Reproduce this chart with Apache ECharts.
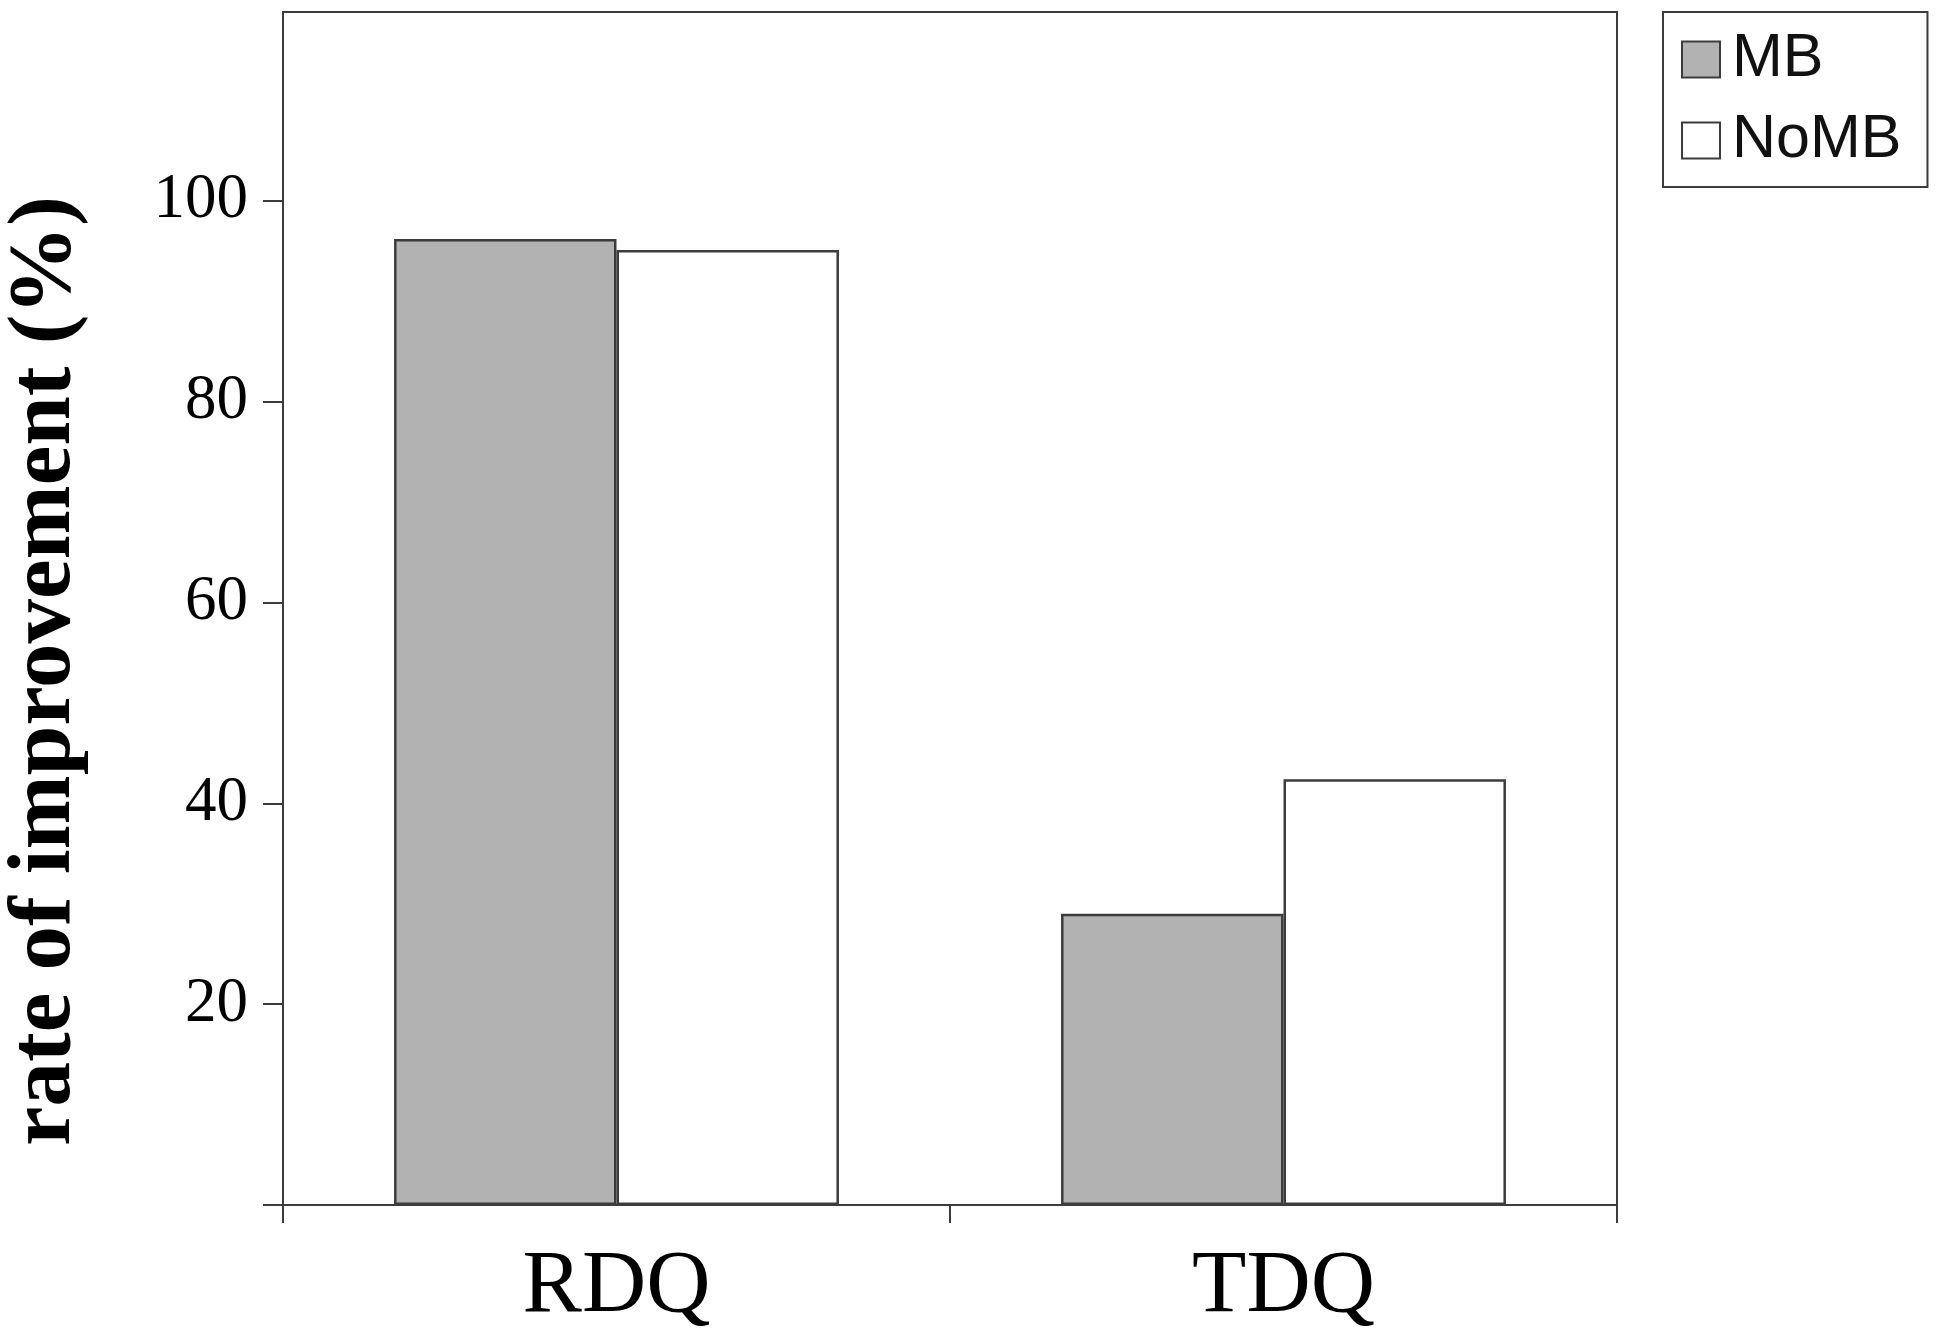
<!DOCTYPE html>
<html>
<head>
<meta charset="utf-8">
<style>
  html, body { margin: 0; padding: 0; background: #ffffff; }
  #chart { width: 1940px; height: 1340px; }
</style>
<script src="https://cdn.jsdelivr.net/npm/echarts@6/dist/echarts.min.js"></script>
</head>
<body>
<div id="chart"></div>
<script>
const categories = ['RDQ', 'TDQ'];
const seriesNames = ['MB', 'NoMB'];
const mbValues = [96.2, 29.0];
const nombValues = [95.1, 42.4];
const yTickValues = [0, 20, 40, 60, 80, 100];
const yLabelValues = [20, 40, 60, 80, 100];
const yAxisTitle = 'rate of improvement (%)';

const SERIF = '"Liberation Serif", "Times New Roman", serif';
const SANS = '"Liberation Sans", Arial, sans-serif';
const LINE = '#3c3c3c';

const chart = echarts.init(document.getElementById('chart'), null, { renderer: 'canvas' });

const option = {
  backgroundColor: '#ffffff',
  animation: false,
  grid: {
    left: 283, right: 323, top: 12, bottom: 135,
    show: true, borderColor: LINE, borderWidth: 2, backgroundColor: 'transparent'
  },
  legend: {
    orient: 'vertical',
    left: 1663, top: 12,
    data: seriesNames,
    backgroundColor: '#ffffff',
    borderColor: LINE, borderWidth: 2, borderRadius: 0,
    padding: [17, 26, 16, 18],
    itemWidth: 38, itemHeight: 36, itemGap: 20,
    icon: 'rect',
    textStyle: { fontFamily: SANS, fontSize: 61, color: '#111111', padding: [0, 0, 0, 7] }
  },
  xAxis: {
    type: 'category',
    data: categories,
    boundaryGap: true,
    axisLine: { show: true, lineStyle: { color: LINE, width: 2 } },
    axisTick: { show: true, inside: false, length: 18, alignWithLabel: false, lineStyle: { color: LINE, width: 2 } },
    axisLabel: { fontFamily: SERIF, fontSize: 89, color: '#000000', margin: 38 },
    splitLine: { show: false }
  },
  yAxis: {
    type: 'value',
    min: 0, max: 118.8, interval: 20,
    axisLine: { show: true, lineStyle: { color: LINE, width: 2 } },
    axisTick: { show: true, inside: false, length: 20, customValues: yTickValues, lineStyle: { color: LINE, width: 2 } },
    axisLabel: { fontFamily: SERIF, fontSize: 63, color: '#000000', margin: 35, customValues: yLabelValues },
    splitLine: { show: false }
  },
  graphic: [{
    type: 'text',
    x: 46, y: 671,
    rotation: Math.PI / 2,
    style: {
      text: yAxisTitle,
      font: 'bold 89px ' + SERIF,
      fill: '#000000',
      align: 'center',
      verticalAlign: 'middle'
    }
  }],
  series: [
    {
      name: seriesNames[0], type: 'bar', data: mbValues,
      barGap: '0%', barCategoryGap: '33.3%',
      itemStyle: { color: '#b2b2b2', borderColor: LINE, borderWidth: 2.5 }
    },
    {
      name: seriesNames[1], type: 'bar', data: nombValues,
      barGap: '0%', barCategoryGap: '33.3%',
      itemStyle: { color: '#ffffff', borderColor: LINE, borderWidth: 2.5 }
    }
  ]
};

chart.setOption(option);
</script>
</body>
</html>
